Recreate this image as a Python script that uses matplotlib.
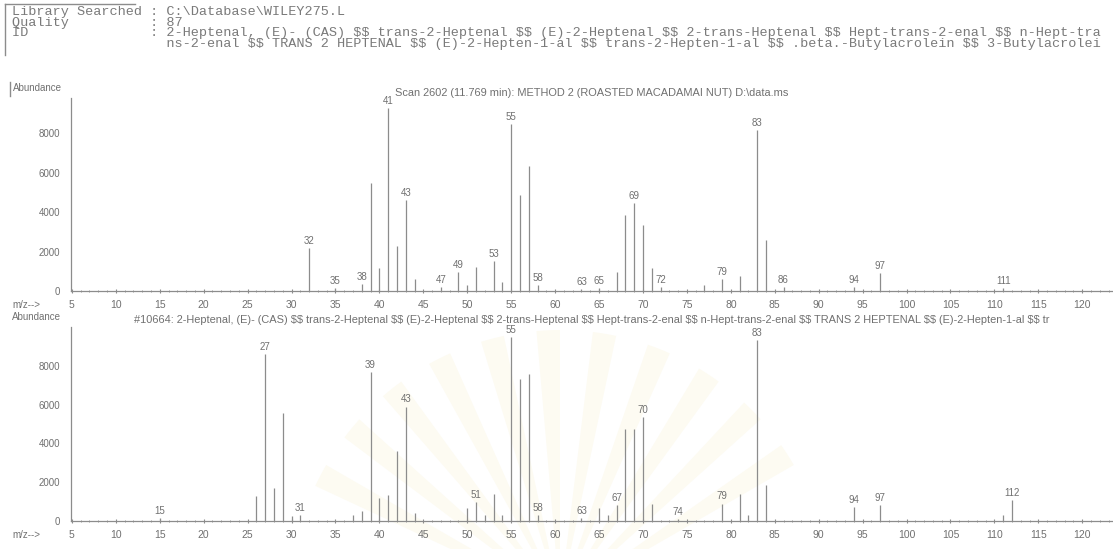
import matplotlib
matplotlib.use("Agg")
import matplotlib.pyplot as plt
from matplotlib.ticker import MultipleLocator
from matplotlib.lines import Line2D
from matplotlib.patches import Wedge

# ---------------- data ----------------
header_lines = [
    "Library Searched : C:\\Database\\WILEY275.L",
    "Quality          : 87",
    "ID               : 2-Heptenal, (E)- (CAS) $$ trans-2-Heptenal $$ (E)-2-Heptenal $$ 2-trans-Heptenal $$ Hept-trans-2-enal $$ n-Hept-tra",
    "                   ns-2-enal $$ TRANS 2 HEPTENAL $$ (E)-2-Hepten-1-al $$ trans-2-Hepten-1-al $$ .beta.-Butylacrolein $$ 3-Butylacrolei",
]
title_top = "Scan 2602 (11.769 min): METHOD 2 (ROASTED MACADAMAI NUT) D:\\data.ms"
title_bot = ("#10664: 2-Heptenal, (E)- (CAS) $$ trans-2-Heptenal $$ (E)-2-Heptenal $$ 2-trans-Heptenal $$ "
             "Hept-trans-2-enal $$ n-Hept-trans-2-enal $$ TRANS 2 HEPTENAL $$ (E)-2-Hepten-1-al $$ tr")

mz_top = [32, 35, 38, 39, 40, 41, 42, 43, 44, 47, 49, 50, 51, 53, 54, 55, 56, 57, 58,
          63, 65, 67, 68, 69, 70, 71, 72, 77, 79, 81, 83, 84, 86, 94, 97, 111]
ab_top = [2180, 150, 350, 5500, 1150, 9300, 2300, 4600, 600, 200, 950, 300, 1200, 1500, 450,
          8500, 4850, 6350, 300, 100, 150, 950, 3850, 4450, 3350, 1150, 200, 300, 600, 750,
          8150, 2600, 200, 200, 900, 150]
labels_top = [32, 35, 38, 41, 43, 47, 49, 53, 55, 58, 63, 65, 69, 72, 79, 83, 86, 94, 97, 111]

mz_bot = [15, 26, 27, 28, 29, 30, 31, 37, 38, 39, 40, 41, 42, 43, 44, 50, 51, 52, 53, 54,
          55, 56, 57, 58, 63, 65, 66, 67, 68, 69, 70, 71, 74, 79, 81, 82, 83, 84, 94, 97, 111, 112]
ab_bot = [150, 1300, 8600, 1700, 5550, 250, 300, 300, 500, 7700, 1200, 1350, 3600, 5900, 400,
          650, 1000, 300, 1400, 300, 9500, 7300, 7600, 300, 150, 650, 300, 800, 4750, 4750,
          5350, 900, 100, 900, 1400, 300, 9350, 1850, 700, 800, 300, 1100]
labels_bot = [15, 27, 31, 39, 43, 51, 55, 58, 63, 67, 70, 74, 79, 83, 94, 97, 112]

y_ticks = [0, 2000, 4000, 6000, 8000]
x_major = list(range(5, 121, 5))

# ---------------- style ----------------
TXT = "#707070"
LIN = "#8c8c8c"
W, H = 1113, 549
plt.rcParams['font.family'] = ['Liberation Sans', 'DejaVu Sans']

fig = plt.figure(figsize=(W / 100, H / 100), dpi=100)
fig.patch.set_facecolor("white")


def fx(px):
    return px / W


def fy(py):
    return 1 - py / H


# very faint scanned watermark (decoration behind the lower panel)
for ang in range(30, 152, 12):
    fig.add_artist(Wedge((560, H - 600), 270, ang, ang + 5, transform=None,
                         facecolor="#fdfbf2", edgecolor="none", zorder=0))

# header box lines and text
fig.add_artist(Line2D([fx(5), fx(5)], [fy(4), fy(55)], color=LIN, lw=1.0))
fig.add_artist(Line2D([fx(5), fx(135)], [fy(4), fy(4)], color=LIN, lw=1.0))
fig.text(fx(12), fy(6), "\n".join(header_lines), family=['Liberation Mono', 'DejaVu Sans Mono'],
         fontsize=9.7, color="#7a7a7a", va='top', ha='left', linespacing=0.86, parse_math=False)


def make_panel(rect, mz, ab, labs, ytop, title, title_y):
    ax = fig.add_axes(rect)
    ax.vlines(mz, 0, ab, color=LIN, lw=0.9)
    ax.set_xlim(4.9, 123.5)
    ax.set_ylim(0, ytop)
    for s in ('top', 'right'):
        ax.spines[s].set_visible(False)
    for s in ('left', 'bottom'):
        ax.spines[s].set_color(LIN)
        ax.spines[s].set_linewidth(0.9)
    ax.set_yticks(y_ticks)
    ax.set_yticklabels([str(v) for v in y_ticks])
    ax.set_xticks(x_major)
    ax.set_xticklabels([str(v) for v in x_major])
    ax.xaxis.set_minor_locator(MultipleLocator(1))
    ax.tick_params(axis='x', which='major', length=3, direction='inout', colors=LIN,
                   labelcolor=TXT, labelsize=7.5, pad=5)
    ax.tick_params(axis='x', which='minor', length=2, direction='inout', colors=LIN)
    ax.tick_params(axis='y', length=0, labelcolor=TXT, labelsize=7, pad=8)
    ax.patch.set_alpha(0)
    d = dict(zip(mz, ab))
    for m in labs:
        ax.annotate(str(m), (m, d[m]), xytext=(0, 1.5), textcoords='offset points',
                    ha='center', va='bottom', fontsize=7, color=TXT)
    fig.text(fx(592), fy(title_y), title, ha='center', va='center', fontsize=7.9,
             color=TXT, parse_math=False)
    return ax


ax1 = make_panel([fx(71), fy(291), fx(1042), (291 - 98) / H], mz_top, ab_top, labels_top,
                 9800, title_top, 93)
ax2 = make_panel([fx(71), fy(521), fx(1042), (521 - 327) / H], mz_bot, ab_bot, labels_bot,
                 10000, title_bot, 320)

fig.text(fx(12), fy(305), "m/z-->", fontsize=7, color=TXT, va='center', ha='left')
fig.text(fx(12), fy(535), "m/z-->", fontsize=7, color=TXT, va='center', ha='left')
fig.text(fx(13), fy(88), "Abundance", fontsize=7, color=TXT, va='center', ha='left')
fig.text(fx(12), fy(317), "Abundance", fontsize=7, color=TXT, va='center', ha='left')
fig.add_artist(Line2D([fx(10), fx(10)], [fy(82), fy(96)], color=LIN, lw=1.0))

fig.savefig("out.png", dpi=100, facecolor="white")
